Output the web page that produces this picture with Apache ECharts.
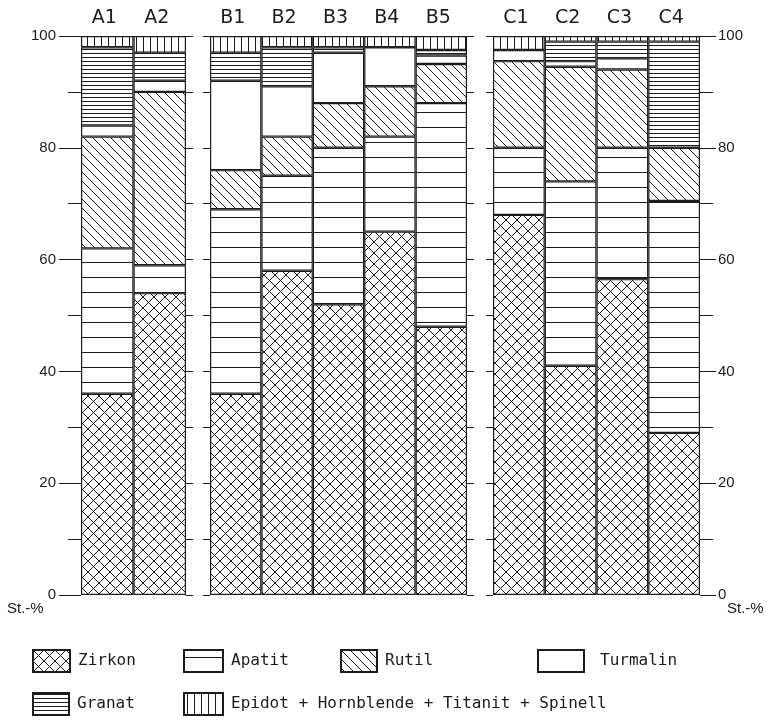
<!DOCTYPE html>
<html>
<head>
<meta charset="utf-8">
<script src="https://cdn.jsdelivr.net/npm/echarts@6/dist/echarts.min.js"></script>
<style>
  html, body { margin: 0; padding: 0; background: #fff; }
  #main { width: 776px; height: 721px; }
</style>
</head>
<body>
<div id="main"></div>
<script>
// heavy mineral shares (St.-%), one value per sample, stacked bottom -> top
var samples  = ['A1', 'A2', 'B1', 'B2', 'B3', 'B4', 'B5', 'C1', 'C2', 'C3', 'C4'];
var zirkon   = [36, 54, 36, 58, 52, 65, 48, 68, 41, 56.5, 29];
var apatit   = [26, 5, 33, 17, 28, 17, 40, 12, 33, 23.5, 41.5];
var rutil    = [20, 31, 7, 7, 8, 9, 7, 15.5, 20.5, 14, 9.5];
var turmalin = [2, 2, 16, 9, 9, 7, 1.5, 2, 1, 2, 0];
var granat   = [14, 5, 5, 7, 1, 0, 1, 0, 3.5, 3, 19];
var epidot   = [2, 3, 3, 2, 2, 2, 2.5, 2.5, 1, 1, 1];
var sampleGroup = [0, 0, 1, 1, 1, 1, 1, 2, 2, 2, 2];
var mineralNames = ['Zirkon', 'Apatit', 'Rutil', 'Turmalin', 'Granat', 'Epidot + Hornblende + Titanit + Spinell'];
var mineralValues = [zirkon, apatit, rutil, turmalin, granat, epidot];

var ink = '#1c1c1c';

function tile(w, h, draw) {
  var c = document.createElement('canvas');
  c.width = w; c.height = h;
  var ctx = c.getContext('2d');
  ctx.fillStyle = '#fff';
  ctx.fillRect(0, 0, w, h);
  ctx.strokeStyle = ink;
  ctx.fillStyle = ink;
  ctx.lineWidth = 1;
  draw(ctx, w, h);
  return { image: c, repeat: 'repeat' };
}

var fills = [
  // Zirkon: cross hatch
  tile(11, 11, function (ctx, w, h) {
    ctx.beginPath();
    ctx.moveTo(-1, -1); ctx.lineTo(w + 1, h + 1);
    ctx.moveTo(w + 1, -1); ctx.lineTo(-1, h + 1);
    ctx.stroke();
  }),
  // Apatit: wide horizontal lines
  tile(4, 15, function (ctx, w) { ctx.fillRect(0, 7, w, 1); }),
  // Rutil: diagonal lines
  tile(9, 9, function (ctx, w, h) {
    ctx.beginPath();
    ctx.moveTo(-1, -1); ctx.lineTo(w + 1, h + 1);
    ctx.stroke();
  }),
  // Turmalin: blank
  '#ffffff',
  // Granat: dense horizontal lines
  tile(4, 4, function (ctx, w) { ctx.fillRect(0, 1, w, 1); }),
  // Epidot etc: vertical lines
  tile(7, 4, function (ctx, w, h) { ctx.fillRect(3, 0, 1, h); })
];

var grids = [
  { left: 81, width: 105, top: 36, height: 559 },
  { left: 210, width: 257, top: 36, height: 559 },
  { left: 493, width: 207, top: 36, height: 559 }
];

var xAxes = [], yAxes = [], series = [];
var tickFont = { fontFamily: 'Liberation Sans', fontSize: 15, color: ink };

grids.forEach(function (g, gi) {
  var idx = [];
  sampleGroup.forEach(function (s, i) { if (s === gi) idx.push(i); });

  xAxes.push({
    gridIndex: gi, type: 'category', position: 'top',
    data: idx.map(function (i) { return samples[i]; }),
    axisLine: { show: true, onZero: false, lineStyle: { color: ink, width: 1.2 } },
    axisTick: { show: false },
    axisLabel: { margin: 8, fontFamily: 'DejaVu Sans', fontSize: 19, color: ink, padding: [0, 6, 0, 0] }
  });

  var shortTicks = {
    gridIndex: gi, type: 'value', min: 0, max: 100, interval: 10,
    axisLine: { show: false }, splitLine: { show: false },
    axisTick: { show: true, length: 7, lineStyle: { color: ink } },
    axisLabel: { show: false }
  };
  var leftAxis = Object.assign({}, shortTicks, { position: 'left' });
  var rightAxis = Object.assign({}, shortTicks, { position: 'right' });
  if (gi === 0) {
    leftAxis = {
      gridIndex: gi, type: 'value', min: 0, max: 100, interval: 20, position: 'left',
      axisLine: { show: false }, splitLine: { show: false },
      axisTick: { show: true, length: 22, lineStyle: { color: ink } },
      minorTick: { show: true, splitNumber: 2, length: 13, lineStyle: { color: ink } },
      axisLabel: Object.assign({ margin: 25 }, tickFont)
    };
  }
  if (gi === 2) {
    rightAxis = {
      gridIndex: gi, type: 'value', min: 0, max: 100, interval: 20, position: 'right',
      axisLine: { show: false }, splitLine: { show: false },
      axisTick: { show: true, length: 16, lineStyle: { color: ink } },
      minorTick: { show: true, splitNumber: 2, length: 13, lineStyle: { color: ink } },
      axisLabel: Object.assign({ margin: 18 }, tickFont)
    };
  }
  yAxes.push(leftAxis, rightAxis);

  mineralNames.forEach(function (name, mi) {
    series.push({
      type: 'bar', name: name, stack: 'g' + gi,
      xAxisIndex: gi, yAxisIndex: gi * 2,
      barCategoryGap: 0, barWidth: '100%',
      data: idx.map(function (i) { return mineralValues[mi][i]; }),
      itemStyle: { color: fills[mi], borderColor: ink, borderWidth: 1.2 },
      emphasis: { disabled: true }
    });
  });
});

var legendPos = [
  { left: 32, top: 649, w: 37 },
  { left: 183, top: 649, w: 39 },
  { left: 340, top: 649, w: 36 },
  { left: 537, top: 649, w: 46, pad: 8 },
  { left: 32, top: 692, w: 36 },
  { left: 183, top: 692, w: 39 }
];
var legends = mineralNames.map(function (name, mi) {
  var p = legendPos[mi];
  return {
    data: [name], left: p.left, top: p.top, icon: 'rect', padding: 0,
    itemWidth: p.w, itemHeight: 22, selectedMode: false,
    textStyle: { fontFamily: 'DejaVu Sans Mono', fontSize: 16, color: ink, padding: [0, 0, 0, 3 + (p.pad || 0)] }
  };
});

var chart = echarts.init(document.getElementById('main'));
chart.setOption({
  animation: false,
  backgroundColor: '#fff',
  grid: grids,
  xAxis: xAxes,
  yAxis: yAxes,
  legend: legends,
  series: series,
  graphic: [
    { type: 'text', left: 7, top: 601, style: { text: 'St.-%', fontFamily: 'Liberation Sans', fontSize: 15, fill: ink } },
    { type: 'text', left: 727, top: 601, style: { text: 'St.-%', fontFamily: 'Liberation Sans', fontSize: 15, fill: ink } }
  ]
});
</script>
</body>
</html>
